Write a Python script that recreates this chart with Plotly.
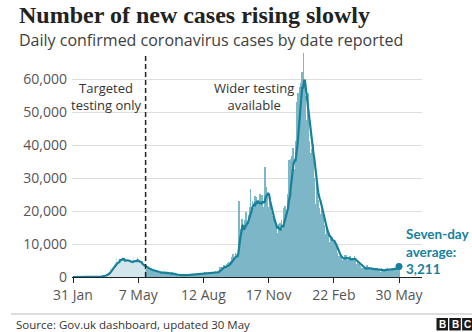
import pandas as pd
import plotly.graph_objects as go

# Daily confirmed UK coronavirus cases by date reported, one list per month
cases_2020_01 = [2]  # from 31 Jan
cases_2020_02 = [0, 0, 0, 0, 0, 1, 0, 0, 1, 4,
                 0, 0, 0, 0, 0, 0, 0, 0, 0, 0,
                 0, 0, 0, 4, 0, 0, 2, 5, 3]
cases_2020_03 = [12, 4, 11, 34, 29, 48, 45, 69, 43, 62,
                 77, 130, 208, 342, 251, 152, 407, 676, 643, 714,
                 1035, 665, 967, 1427, 1452, 2129, 2885, 2546, 2433, 2619,
                 3009]
cases_2020_04 = [4324, 4244, 4450, 3735, 5903, 3802, 3634, 5491, 4344, 8681,
                 5233, 5288, 4342, 5252, 4603, 4617, 5599, 5525, 5850, 4676,
                 4301, 4451, 4583, 5386, 4913, 4463, 4309, 3996, 4076, 6032]
cases_2020_05 = [6201, 4806, 4339, 3985, 4406, 6111, 5614, 4649, 3896, 3923,
                 3877, 3403, 3242, 3446, 3560, 3450, 3142, 2684, 2412, 2472,
                 2615, 2959, 2591, 2405, 1625, 2004, 2013, 1887, 2095, 1936,
                 1570]
cases_2020_06 = [1653, 1871, 1805, 1650, 1557, 1326, 1205, 1205, 1387, 1003,
                 1266, 1541, 1425, 1514, 1056, 1279, 1115, 1218, 1346, 1295,
                 1221, 958, 874, 653, 1118, 1380, 890, 901, 815, 689]
cases_2020_07 = [829, 576, 544, 624, 516, 352, 581, 630, 512, 642,
                 820, 650, 530, 598, 538, 642, 687, 827, 580, 560,
                 445, 560, 769, 798, 767, 744, 685, 581, 763, 846,
                 880]
cases_2020_08 = [743, 744, 938, 670, 892, 950, 871, 758, 1062, 816,
                 1148, 1009, 1009, 1441, 1012, 1040, 713, 1089, 812, 1182,
                 1033, 1288, 1041, 853, 1184, 1048, 1522, 1276, 1108, 1715,
                 1406]
cases_2020_09 = [1295, 1508, 1735, 1940, 1813, 2988, 2948, 2460, 2659, 2919,
                 3539, 3497, 3330, 2621, 3105, 3991, 3395, 4322, 4422, 3899,
                 4368, 4926, 6178, 6634, 6874, 6042, 5693, 4044, 7143, 7108]
cases_2020_10 = [6914, 6968, 12872, 22961, 12594, 14542, 14162, 17540, 13864, 15166,
                 12872, 13972, 17234, 19724, 18980, 15650, 16171, 16982, 18804, 21331,
                 26688, 21242, 20530, 23012, 19790, 20890, 22885, 24701, 23065, 24405,
                 21915]
cases_2020_11 = [23254, 18950, 20018, 25177, 24141, 23287, 24957, 20572, 21350, 20412,
                 22950, 33470, 27301, 26860, 24962, 21363, 20051, 19609, 22915, 20252,
                 19875, 18662, 15450, 11299, 18213, 17555, 16022, 15871, 12155, 12330]
cases_2020_12 = [13430, 16170, 14879, 16298, 15539, 17272, 14718, 12282, 16578, 20964,
                 21672, 21502, 18447, 20263, 18450, 25161, 35383, 28507, 27052, 35928,
                 33364, 36804, 39237, 39036, 32725, 30501, 34693, 41385, 53135, 50023,
                 55892]
cases_2021_01 = [53285, 57725, 54990, 58784, 60916, 62322, 52618, 68053, 59937, 54940,
                 46169, 45533, 47525, 48682, 55761, 41346, 38598, 37535, 33355, 38905,
                 37892, 40261, 33552, 30004, 22195, 20089, 25308, 28680, 29079, 23275,
                 21088]
cases_2021_02 = [18607, 16840, 19202, 20634, 19114, 18262, 15845, 14104, 12364, 13013,
                 13494, 15144, 13308, 10972, 9765, 10625, 12718, 12057, 12027, 10406,
                 9834, 10641, 8489, 9938, 9985, 8523, 7434, 6035]
cases_2021_03 = [5455, 6391, 6385, 6573, 6040, 5177, 5177, 4712, 5766, 5926,
                 6609, 6753, 5534, 4618, 5089, 5294, 5758, 6303, 4802, 5587,
                 5312, 5342, 5379, 5605, 6397, 4715, 3862, 3862, 4654, 4052,
                 4040]
cases_2021_04 = [4479, 3402, 3423, 2297, 2762, 2379, 2763, 2472, 3150, 2589,
                 1730, 3568, 2472, 2491, 2672, 2596, 2206, 1882, 2963, 2524,
                 2396, 2729, 2678, 2026, 1712, 2064, 2685, 2166, 2432, 2381]
cases_2021_05 = [1907, 1671, 1649, 2613, 1946, 2490, 2047, 1770, 1770, 2357,
                 2474, 2284, 2657, 2193, 2027, 1926, 1979, 2412, 2696, 2874,
                 2829, 2047, 1979, 2439, 2493, 3180, 3545, 4182, 3398, 3240]

month_starts = ["2020-01-31", "2020-02-01", "2020-03-01", "2020-04-01", "2020-05-01",
                "2020-06-01", "2020-07-01", "2020-08-01", "2020-09-01", "2020-10-01",
                "2020-11-01", "2020-12-01", "2021-01-01", "2021-02-01", "2021-03-01",
                "2021-04-01", "2021-05-01"]
month_cases = [cases_2020_01, cases_2020_02, cases_2020_03, cases_2020_04, cases_2020_05,
               cases_2020_06, cases_2020_07, cases_2020_08, cases_2020_09, cases_2020_10,
               cases_2020_11, cases_2020_12, cases_2021_01, cases_2021_02, cases_2021_03,
               cases_2021_04, cases_2021_05]

x_tick_dates = ["2020-01-31", "2020-05-07", "2020-08-12", "2020-11-17", "2021-02-22", "2021-05-30"]
x_tick_labels = ["31 Jan", "7 May", "12 Aug", "17 Nov", "22 Feb", "30 May"]
y_tick_values = [0, 10000, 20000, 30000, 40000, 50000, 60000]
y_tick_labels = ["0", "10,000", "20,000", "30,000", "40,000", "50,000", "60,000"]
testing_change = "2020-05-18"

frames = []
for start, vals in zip(month_starts, month_cases):
    frames.append(pd.DataFrame({"date": pd.date_range(start, periods=len(vals), freq="D"),
                                "cases": vals}))
df = pd.concat(frames, ignore_index=True)
df["avg7"] = df["cases"].rolling(7, min_periods=1).mean()

early = df[df["date"] <= testing_change]
later = df[df["date"] >= testing_change]
last = df.iloc[-1]

# canvas geometry (pixels)
W, H = 472, 332
ML, MR, MT, MB = 72, 50, 53, 55
PW, PH = W - ML - MR, H - MT - MB


def px(x):
    return (x - ML) / PW


def py(y):
    return (H - MB - y) / PH


LINE = "#17819a"
BAR = "#7db6c6"
FILL_EARLY = "#d2e6eb"
BAR_EARLY = "rgba(140,190,205,0.35)"
day_ms = 86400000 * 0.85

fig = go.Figure()
# targeted-testing period: pale area under the seven-day average
fig.add_trace(go.Scatter(x=early["date"], y=early["avg7"], mode="lines", fill="tozeroy",
                         fillcolor=FILL_EARLY, line=dict(width=0), hoverinfo="skip"))
fig.add_trace(go.Bar(x=early["date"], y=early["cases"], width=day_ms,
                     marker=dict(color=BAR_EARLY, line=dict(width=0)), hoverinfo="skip"))
fig.add_trace(go.Bar(x=later["date"], y=later["cases"], width=day_ms,
                     marker=dict(color=BAR, line=dict(width=0)), hoverinfo="skip"))
fig.add_trace(go.Scatter(x=df["date"], y=df["avg7"], mode="lines",
                         line=dict(color=LINE, width=2.2), hoverinfo="skip"))
fig.add_trace(go.Scatter(x=[last["date"]], y=[last["avg7"]], mode="markers",
                         marker=dict(color=LINE, size=7), hoverinfo="skip"))

shapes = [
    dict(type="line", xref="x", yref="paper", x0=testing_change, x1=testing_change,
         y0=0, y1=1, line=dict(color="#222222", width=1.5, dash="5px,3px")),
    dict(type="line", xref="paper", yref="paper", x0=px(11), x1=px(472),
         y0=py(314), y1=py(314), line=dict(color="#bbbbbb", width=1)),
]
annotations = [
    dict(text="<b>Number of new cases rising slowly</b>", x=px(17), y=py(15),
         font=dict(family="Liberation Serif", size=24, color="#222222")),
    dict(text="Daily confirmed coronavirus cases by date reported", x=px(17), y=py(40),
         font=dict(family="Open Sans", size=16, color="#404040")),
    dict(text="Source: Gov.uk dashboard, updated 30 May", x=px(14), y=py(324),
         font=dict(family="Open Sans", size=11.5, color="#333333")),
    dict(text="Targeted<br>testing only", x=px(106), y=py(96), xanchor="center",
         font=dict(family="Open Sans", size=13, color="#333333")),
    dict(text="Wider testing<br>available", x=px(254), y=py(96), xanchor="center",
         font=dict(family="Open Sans", size=13, color="#333333")),
    dict(text=f"<b>Seven-day<br>average:<br>{last['avg7']:,.0f}</b>", x=px(404), y=py(251),
         align="left", font=dict(family="Lato", size=13.5, color=LINE)),
]
# BBC blocks
for i, letter in enumerate("BBC"):
    x0 = 436.5 + i * 12.8
    shapes.append(dict(type="rect", xref="paper", yref="paper", x0=px(x0), x1=px(x0 + 11.5),
                       y0=py(330.5), y1=py(318), fillcolor="#1a1a1a", line=dict(width=0)))
    annotations.append(dict(text=f"<b>{letter}</b>", x=px(x0 + 5.75), y=py(324.5),
                            xanchor="center",
                            font=dict(family="Liberation Sans", size=10, color="white")))
for a in annotations:
    a.setdefault("xanchor", "left")
    a.update(xref="paper", yref="paper", yanchor="middle", showarrow=False)

fig.update_layout(
    width=W, height=H, margin=dict(l=ML, r=MR, t=MT, b=MB),
    paper_bgcolor="white", plot_bgcolor="white",
    showlegend=False, bargap=0, barmode="overlay",
    shapes=shapes, annotations=annotations,
    xaxis=dict(type="date", range=["2020-01-29 12:00", "2021-07-03 05:00"],
               tickvals=x_tick_dates, ticktext=x_tick_labels,
               showgrid=False, showline=True, linecolor="#222222", linewidth=1,
               ticks="outside", ticklen=5, tickcolor="#222222",
               tickfont=dict(family="Open Sans", size=14, color="#555555")),
    yaxis=dict(range=[0, 68000], tickvals=y_tick_values, ticktext=y_tick_labels,
               showgrid=True, gridcolor="#dedede", gridwidth=1, zeroline=False,
               showline=False, ticks="", ticklabelstandoff=4,
               tickfont=dict(family="Open Sans", size=14, color="#555555")),
)

fig.write_html("out.html")
